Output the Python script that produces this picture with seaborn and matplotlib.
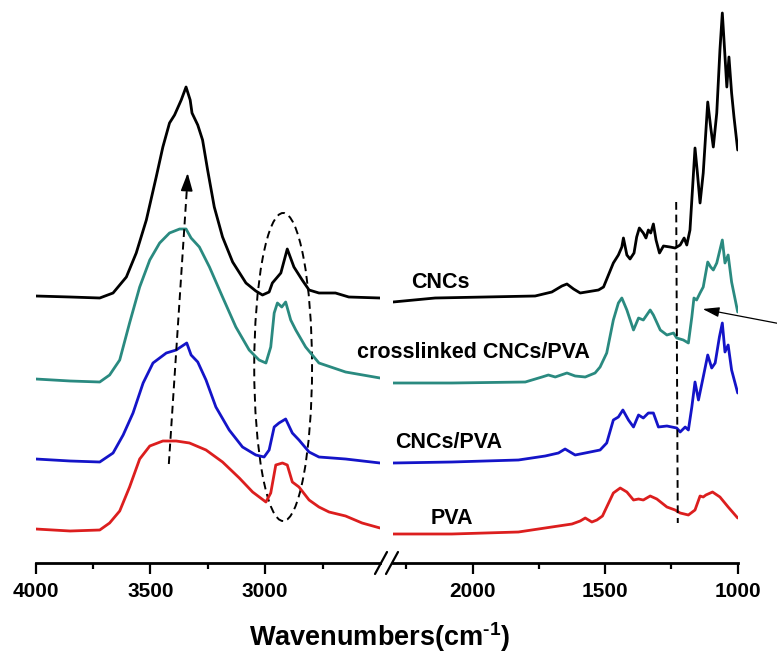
import matplotlib
matplotlib.use("Agg")
import matplotlib.pyplot as plt
from matplotlib.patches import Ellipse
from matplotlib.lines import Line2D
import seaborn as sns
import pandas as pd

# ---- FTIR spectra (stacked, arbitrary absorbance units) ----
samples = ["CNCs", "crosslinked CNCs/PVA", "CNCs/PVA", "PVA"]
colors = ["#000000", "#2a8a80", "#1414c8", "#dc1e1e"]

cnc_wn = [4000, 3850, 3721, 3663, 3605, 3562, 3518, 3475, 3446, 3417, 3395, 3366, 3345,
          3327, 3319, 3294, 3273, 3251, 3222, 3186, 3142, 3084, 3041, 3012, 2983, 2969,
          2932, 2904, 2875, 2839, 2809, 2766, 2694, 2636, 2500,
          2300, 2141, 1952, 1764, 1701, 1663, 1644, 1619, 1594, 1525, 1506, 1469, 1450,
          1437, 1431, 1418, 1406, 1391, 1381, 1371, 1356, 1346, 1337, 1328, 1318, 1308,
          1295, 1280, 1255, 1236, 1217, 1202, 1192, 1180, 1170, 1161, 1152, 1142, 1130,
          1113, 1102, 1092, 1079, 1067, 1058, 1051, 1041, 1033, 1023, 1014, 1000]
cnc_abs = [267, 266, 265, 270, 286, 310, 343, 386, 416, 440, 448, 463, 476,
           463, 450, 438, 423, 393, 356, 326, 301, 280, 272, 268, 271, 280,
           290, 314, 296, 283, 273, 270, 270, 266, 265,
           261, 265, 266, 267, 271, 277, 279, 274, 270, 273, 276, 300, 308,
           316, 325, 308, 304, 310, 326, 335, 330, 325, 333, 330, 339, 323,
           310, 317, 316, 315, 318, 325, 318, 333, 376, 415, 390, 360, 390,
           461, 436, 416, 450, 513, 550, 520, 476, 506, 470, 446, 413]

xl_wn = [4000, 3850, 3721, 3678, 3634, 3591, 3547, 3503, 3460, 3417, 3373, 3345, 3323,
         3287, 3243, 3186, 3128, 3070, 3027, 2997, 2976, 2961, 2947, 2928, 2911, 2889,
         2867, 2824, 2766, 2650, 2500,
         2300, 2078, 1801, 1738, 1714, 1688, 1644, 1613, 1575, 1538, 1519, 1494, 1469,
         1450, 1437, 1418, 1393, 1374, 1356, 1330, 1318, 1292, 1267, 1242, 1230, 1205,
         1186, 1173, 1165, 1155, 1142, 1130, 1113, 1102, 1092, 1079, 1058, 1048, 1036,
         1023, 1000]
xl_abs = [184, 182, 181, 188, 203, 240, 276, 303, 320, 330, 334, 334, 325,
          316, 296, 266, 236, 213, 203, 200, 216, 250, 260, 256, 261, 243,
          233, 216, 200, 191, 185,
          180, 180, 181, 186, 188, 186, 190, 187, 186, 190, 196, 210, 243,
          260, 265, 253, 233, 245, 243, 253, 248, 233, 228, 230, 225, 223,
          220, 246, 265, 263, 270, 276, 301, 296, 293, 300, 323, 300, 308,
          281, 251]

mix_wn = [4000, 3850, 3721, 3663, 3619, 3576, 3532, 3489, 3431, 3388, 3342, 3323, 3294,
          3258, 3215, 3157, 3099, 3041, 3005, 2983, 2961, 2940, 2911, 2882, 2853, 2809,
          2766, 2650, 2500,
          2300, 2078, 1827, 1726, 1676, 1651, 1613, 1575, 1519, 1494, 1469, 1450, 1433,
          1412, 1393, 1374, 1356, 1337, 1318, 1299, 1267, 1230, 1217, 1198, 1186, 1173,
          1161, 1148, 1130, 1113, 1098, 1085, 1069, 1058, 1048, 1036, 1023, 1000]
mix_abs = [104, 102, 101, 110, 128, 150, 180, 200, 210, 213, 220, 208, 201,
           183, 156, 133, 116, 108, 106, 113, 136, 140, 144, 130, 123, 111,
           106, 104, 100,
           100, 101, 103, 107, 110, 114, 108, 110, 113, 120, 143, 146, 153,
           143, 136, 148, 145, 150, 150, 136, 137, 135, 131, 136, 133, 156,
           181, 163, 186, 208, 195, 200, 226, 240, 211, 218, 193, 170]

pva_wn = [4000, 3850, 3721, 3678, 3634, 3591, 3547, 3503, 3446, 3388, 3330, 3258, 3186,
          3113, 3055, 2997, 2976, 2954, 2925, 2904, 2882, 2853, 2809, 2766, 2722, 2650,
          2578, 2500,
          2300, 2078, 1827, 1701, 1625, 1594, 1575, 1550, 1531, 1510, 1494, 1469, 1443,
          1418, 1393, 1374, 1356, 1330, 1305, 1267, 1236, 1217, 1186, 1161, 1142, 1130,
          1120, 1095, 1067, 1036, 1000]
pva_abs = [34, 32, 33, 40, 52, 76, 104, 117, 122, 122, 120, 113, 101,
           85, 71, 61, 70, 98, 100, 98, 81, 76, 63, 56, 51, 47,
           40, 35,
           29, 29, 31, 36, 39, 42, 45, 41, 43, 47, 56, 70, 75,
           71, 63, 64, 63, 67, 64, 56, 53, 50, 48, 53, 67, 66,
           68, 71, 66, 56, 45]

# sample label anchors (wavenumber, absorbance)
label_wn = [2122, 1997, 2092, 2077]
label_abs = [280, 211, 120, 44]

# broken axis ranges
left_range = (4000, 2500)
right_range = (2300, 1000)
left_major = [4000, 3500, 3000]
left_minor = [3750, 3250, 2750]
right_major = [2000, 1500, 1000]
right_minor = [2250, 1750, 1250]

sns.set_style("white")
plt.rcParams["font.family"] = ["Liberation Sans", "DejaVu Sans"]
plt.rcParams["font.weight"] = "bold"
plt.rcParams["text.color"] = "black"
plt.rcParams["axes.edgecolor"] = "black"
plt.rcParams["xtick.color"] = "black"
plt.rcParams["mathtext.fontset"] = "custom"
plt.rcParams["mathtext.rm"] = "Liberation Sans:bold"
plt.rcParams["mathtext.it"] = "Liberation Sans:bold"
plt.rcParams["mathtext.bf"] = "Liberation Sans:bold"
plt.rcParams["mathtext.default"] = "rm"

frames = []
for name, wn, ab in zip(samples, [cnc_wn, xl_wn, mix_wn, pva_wn],
                        [cnc_abs, xl_abs, mix_abs, pva_abs]):
    frames.append(pd.DataFrame({"wn": wn, "abs": ab, "sample": name}))
df = pd.concat(frames, ignore_index=True)
palette = dict(zip(samples, colors))

W, H = 777, 655
fig = plt.figure(figsize=(W / 100, H / 100), dpi=100)
ax_l = fig.add_axes([35.7 / W, 92 / H, 344.3 / W, 563 / H])
ax_r = fig.add_axes([393 / W, 92 / H, 344.7 / W, 563 / H])

for ax, (hi, lo), major, minor in [(ax_l, left_range, left_major, left_minor),
                                   (ax_r, right_range, right_major, right_minor)]:
    seg = df[(df["wn"] <= hi) & (df["wn"] >= lo)]
    sns.lineplot(data=seg, x="wn", y="abs", hue="sample", palette=palette,
                 sort=False, estimator=None, legend=False, lw=2.0, ax=ax)
    for ln in ax.get_lines():
        ln.set_solid_joinstyle("round")
    ax.set_xlim(hi, lo)
    ax.set_ylim(0, 563)
    ax.set_xticks(major)
    ax.set_xticks(minor, minor=True)
    ax.set_yticks([])
    ax.set_xlabel("")
    ax.set_ylabel("")
    for s in ["left", "right", "top"]:
        ax.spines[s].set_visible(False)
    ax.spines["bottom"].set_linewidth(2.0)
    ax.spines["bottom"].set_color("black")
    ax.tick_params(axis="x", which="both", bottom=True, direction="out",
                   color="black", width=1.6)
    ax.tick_params(axis="x", which="major", length=8, labelsize=15, pad=6,
                   labelcolor="black")
    ax.tick_params(axis="x", which="minor", length=4)
    for t in ax.get_xticklabels():
        t.set_fontweight("bold")
    ax.patch.set_alpha(0)

# sample names
for name, x, y in zip(samples, label_wn, label_abs):
    ax_r.text(x, y, name, ha="center", va="center", fontsize=15.5,
              fontweight="bold", color="black", clip_on=False)

# axis break marks
for xc in (381, 392):
    fig.add_artist(Line2D([(xc - 6) / W, (xc + 6) / W],
                          [(H - 574) / H, (H - 552) / H],
                          transform=fig.transFigure, color="black", lw=1.6))

fig.text(380 / W, 1 - 637 / H, r"Wavenumbers(cm$^{\text{-1}}$)", ha="center",
         va="center", fontsize=19.5, fontweight="bold", color="black")

dash_kw = dict(color="black", lw=1.4, dashes=(4, 2.5))

# O-H band shift arrow
ax_l.plot([3420, 3342], [99, 372], **dash_kw)
ax_l.annotate("", xy=(3338, 390), xytext=(3342, 372),
              arrowprops=dict(arrowstyle="-|>,head_length=0.9,head_width=0.3",
                              mutation_scale=12, color="black", lw=1.2,
                              shrinkA=0, shrinkB=0))

# C-H stretching region
ax_l.add_patch(Ellipse((2922, 196), width=252, height=308, fill=False,
                       edgecolor="black", lw=1.4, linestyle=(0, (4, 2.5))))

# 1230 cm-1 marker
ax_r.plot([1232, 1226], [361, 40], **dash_kw)

# pointer to crosslinked band
ax_r.annotate("", xy=(1132, 254), xytext=(800 / W, 327.4 / H),
              textcoords="figure fraction", annotation_clip=False,
              arrowprops=dict(arrowstyle="-|>,head_length=1.0,head_width=0.3",
                              mutation_scale=10, color="black", lw=0.9,
                              shrinkA=0, shrinkB=0))

fig.savefig("out.png", dpi=100)
